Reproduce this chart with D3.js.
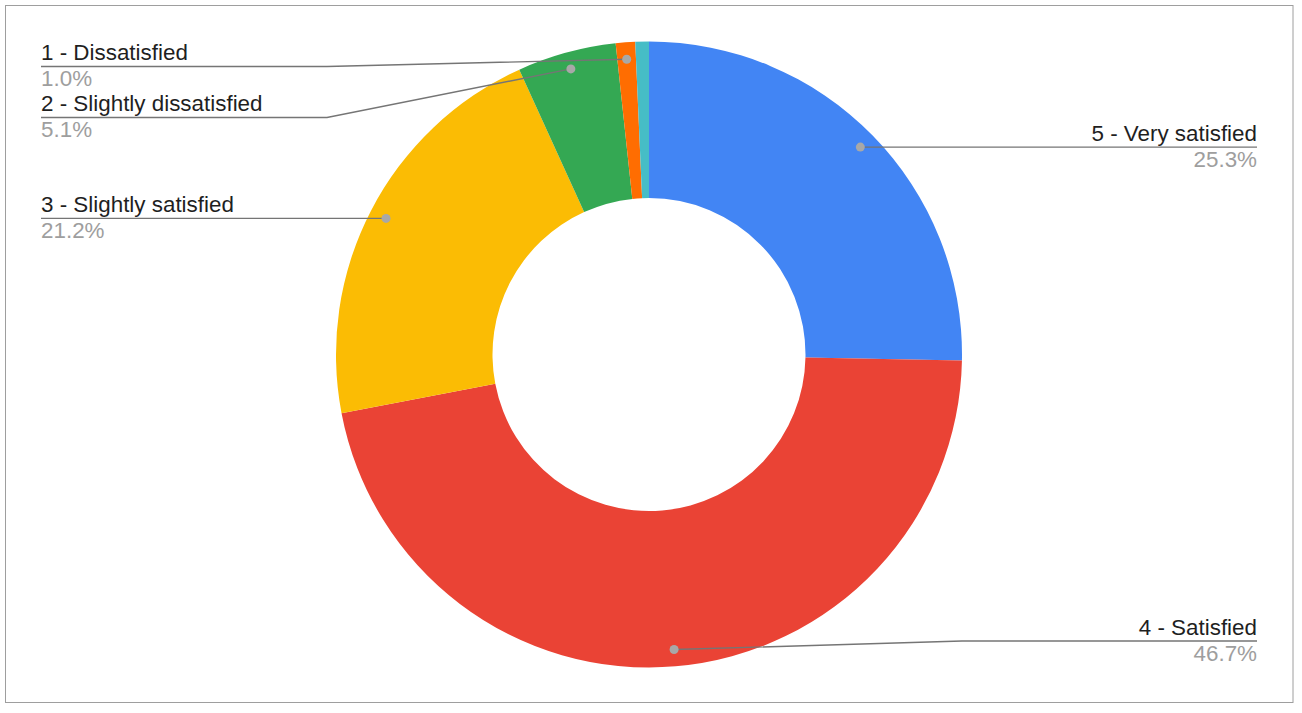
<!DOCTYPE html>
<html>
<head>
<meta charset="utf-8">
<script src="https://cdn.jsdelivr.net/npm/d3@7"></script>
<style>
  html, body { margin: 0; padding: 0; background: #fff; }
  svg { display: block; }
  text { font-family: Arial, "Liberation Sans", sans-serif; }
</style>
</head>
<body>
<svg id="chart" width="1302" height="713"></svg>
<script>
// ---- data ----
const categories = ["5 - Very satisfied", "4 - Satisfied", "3 - Slightly satisfied", "2 - Slightly dissatisfied", "1 - Dissatisfied", ""];
const values = [25.3, 46.7, 21.2, 5.1, 1.0, 0.7];
const colors = ["#4285F4", "#EA4335", "#FBBC04", "#34A853", "#FF6D01", "#46BDC6"];

// ---- layout ----
const W = 1302, H = 713;
const cx = 649, cy = 354.5, R = 313, r0 = 156.5;
const svg = d3.select("#chart");

svg.append("rect").attr("x", 5.5).attr("y", 5.5).attr("width", 1287.5).attr("height", 697)
  .attr("fill", "#fff").attr("stroke", "#9e9e9e").attr("stroke-width", 1);

const data = categories.map((c, i) => ({ name: c, value: values[i], color: colors[i] }));
const total = d3.sum(values);
const pie = d3.pie().value(d => d.value).sort(null).startAngle(0).endAngle(2 * Math.PI);
const arcs = pie(data);
const arc = d3.arc().innerRadius(r0).outerRadius(R);

const g = svg.append("g").attr("transform", `translate(${cx},${cy})`);
g.selectAll("path").data(arcs).join("path")
  .attr("d", arc).attr("fill", d => d.data.color);

// labels
const dotArc = d3.arc().innerRadius(R * 0.946).outerRadius(R * 0.946);
const pct = d3.format(".1%");
const items = arcs.filter(a => a.data.name !== "").map(a => {
  const [x, y] = dotArc.centroid(a);
  return { a, dx: cx + x, dy: cy + y, side: x < 0 ? "left" : "right" };
});
const minY = 66.5, maxY = 641, gap = 51;
["left", "right"].forEach(side => {
  const list = items.filter(d => d.side === side).sort((p, q) => p.dy - q.dy);
  let prev = -Infinity;
  list.forEach(d => {
    d.ly = Math.max(Math.min(Math.max(d.dy, minY), maxY), prev + gap);
    prev = d.ly;
  });
});

const leftX = 41, rightX = 1257;
const bendL = cx - R - 9, bendR = cx + R;
const fs = 22.4;
const lab = svg.append("g");
items.forEach(d => {
  const left = d.side === "left";
  const endX = left ? leftX : rightX;
  const bendX = left ? bendL : bendR;
  let pts;
  if (Math.abs(d.ly - d.dy) < 0.5) pts = [[d.dx, d.dy], [endX, d.ly]];
  else pts = [[d.dx, d.dy], [bendX, d.ly], [endX, d.ly]];
  lab.append("path").attr("d", d3.line()(pts))
    .attr("fill", "none").attr("stroke", "#757575").attr("stroke-width", 1.4);
  lab.append("circle").attr("cx", d.dx).attr("cy", d.dy).attr("r", 4.5)
    .attr("fill", "#a8a8a8");
  lab.append("text").attr("x", endX).attr("y", d.ly - 6.5)
    .attr("text-anchor", left ? "start" : "end")
    .attr("font-size", fs).attr("fill", "#1f1f1f")
    .text(d.a.data.name);
  lab.append("text").attr("x", endX).attr("y", d.ly + 19.5)
    .attr("text-anchor", left ? "start" : "end")
    .attr("font-size", fs).attr("fill", "#9e9e9e")
    .text(pct(d.a.data.value / total));
});
</script>
</body>
</html>
